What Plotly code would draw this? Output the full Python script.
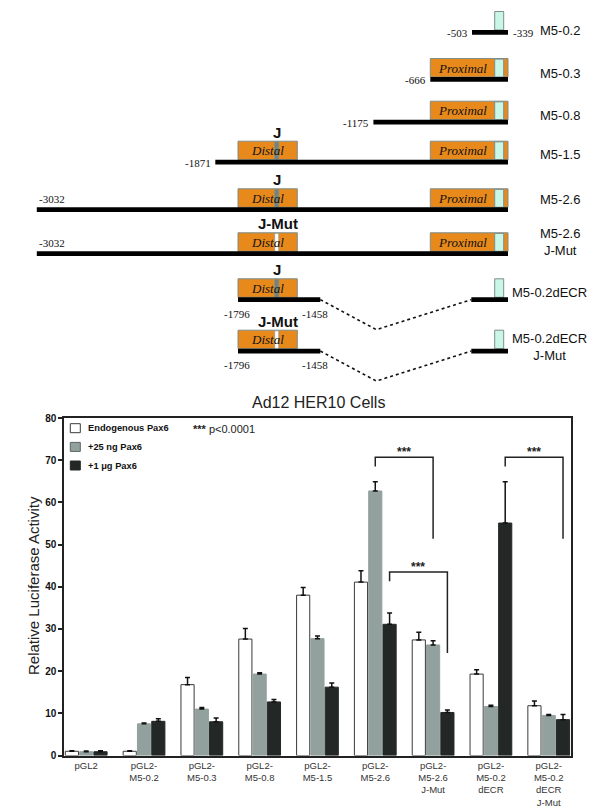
import plotly.graph_objects as go

W, H = 600, 812

# ---------------- bar chart data ----------------
groups = ["pGL2", "pGL2-<br>M5-0.2", "pGL2-<br>M5-0.3", "pGL2-<br>M5-0.8", "pGL2-<br>M5-1.5",
          "pGL2-<br>M5-2.6", "pGL2-<br>M5-2.6<br>J-Mut", "pGL2-<br>M5-0.2<br>dECR",
          "pGL2-<br>M5-0.2<br>dECR<br>J-Mut"]
endo = [1.0, 1.0, 16.8, 27.6, 38.0, 41.1, 27.4, 19.3, 11.8]
endo_err = [0.15, 0.1, 1.7, 2.5, 1.8, 2.7, 1.8, 1.0, 1.1]
ng25 = [0.9, 7.5, 11.0, 19.3, 27.7, 62.7, 26.2, 11.6, 9.5]
ng25_err = [0.15, 0.2, 0.4, 0.3, 0.6, 2.2, 1.0, 0.3, 0.2]
ug1 = [0.9, 8.1, 8.0, 12.7, 16.2, 31.1, 10.2, 55.1, 8.5]
ug1_err = [0.2, 0.6, 0.9, 0.6, 1.0, 2.7, 0.6, 9.8, 1.2]
series_names = ["Endogenous Pax6", "+25 ng Pax6", "+1 \u03bcg Pax6"]
y_ticks = [0, 10, 20, 30, 40, 50, 60, 70, 80]

# significance brackets: (left group, left series, right group, right series, top, left foot, right foot)
brackets = [
    (5, 1, 6, 1, 70.7, 68.5, 51.4),
    (5, 2, 6, 2, 43.5, 41.3, 24.3),
    (7, 2, 8, 2, 70.7, 68.5, 51.4),
]

# ---------------- schematic data ----------------
constructs = ["M5-0.2", "M5-0.3", "M5-0.8", "M5-1.5", "M5-2.6", "M5-2.6<br>J-Mut",
              "M5-0.2dECR", "M5-0.2dECR<br>J-Mut"]
start_labels = ["-503", "-666", "-1175", "-1871", "-3032", "-3032", "-1796", "-1796"]
end_labels = ["-339", "", "", "", "", "", "-1458", "-1458"]
has_distal = [False, False, False, True, True, True, True, True]
j_label = ["", "", "", "J", "J", "J-Mut", "J", "J-Mut"]
has_prox = [False, True, True, True, True, True, False, False]
deleted = [False, False, False, False, False, False, True, True]

# schematic layout (pixels)
line_top = [22, 69, 111.7, 151.7, 199.3, 243.3, 289.3, 340.7]
line_x0 = [464, 422.3, 365.4, 207.3, 28.8, 28.8, 230, 230]
name_y = [22.7, 65.7, 108, 146, 191.7, 234.2, 285, 339]
name_x = [552, 552, 552, 552, 552, 552, 541, 541]
LINE_T = 4.7
BOX_H = 18.5
END_X = 500
PROX = (422.3, 500)
CYAN = (486.7, 495.7)
DIST = (230, 289.3)
JBAND = (266.7, 270.7)
DEL = (312.3, 368.3, 463.3)

ORANGE = "#e8891c"
CYANC = "#c9f6e6"
EDGE = "#7d8e8c"
SANS = "Liberation Sans, Arial"
SERIF = "Liberation Serif, Times New Roman"


def px(x):
    return x / W


def py(y):
    return 1 - y / H


fig = go.Figure()

bar_colors = ["#ffffff", "#92a19e", "#232827"]
bar_lines = ["#3a3a3a", "#92a19e", "#232827"]
legend_lines = ["#3a3a3a", "#5a6664", "#232827"]
for name, vals, errs, c, lc in zip(series_names, [endo, ng25, ug1], [endo_err, ng25_err, ug1_err],
                                   bar_colors, bar_lines):
    fig.add_bar(x=list(range(len(groups))), y=vals, name=name, showlegend=False,
                marker=dict(color=c, line=dict(color=lc, width=1)),
                error_y=dict(type="data", symmetric=False, array=errs, arrayminus=[0] * len(vals),
                             color="#111111", thickness=1.5, width=2.5))

BARGAP = 0.258
OFF = (1 - BARGAP) / 3

shapes = []
annotations = []

# brackets
for (g1, s1, g2, s2, top, f1, f2) in brackets:
    x1 = g1 + (s1 - 1) * OFF
    x2 = g2 + (s2 - 1) * OFF
    shapes.append(dict(type="path", xref="x", yref="y",
                       path=f"M {x1},{f1} L {x1},{top} L {x2},{top} L {x2},{f2}",
                       line=dict(color="#222222", width=1.5)))
    annotations.append(dict(xref="x", yref="y", x=(x1 + x2) / 2, y=top, text="<b>***</b>",
                            showarrow=False, yanchor="bottom", yshift=-4,
                            font=dict(family=SANS, size=12, color="#222222")))


def rect(x0, x1, y0, y1, fill, line=EDGE, lw=1):
    shapes.append(dict(type="rect", xref="paper", yref="paper",
                       x0=px(x0), x1=px(x1), y0=py(y1), y1=py(y0),
                       fillcolor=fill, line=dict(color=line, width=lw), layer="above"))


def text(x, y, t, size, family=SANS, xanchor="center", color="#111111", align="center"):
    annotations.append(dict(xref="paper", yref="paper", x=px(x), y=py(y), text=t, showarrow=False,
                            xanchor=xanchor, yanchor="middle", align=align,
                            font=dict(family=family, size=size, color=color)))


for i, nm in enumerate(constructs):
    lt = line_top[i]
    bt = lt - BOX_H
    cy = lt + LINE_T / 2
    if has_prox[i]:
        rect(PROX[0], PROX[1], bt, lt, ORANGE)
        text((PROX[0] + CYAN[0]) / 2, bt + BOX_H / 2 + 0.5, "<i>Proximal</i>", 13, SERIF)
    rect(CYAN[0], CYAN[1], bt + (0.6 if has_prox[i] else 0), lt, CYANC)
    if has_distal[i]:
        rect(DIST[0], DIST[1], bt, lt, ORANGE)
        text((DIST[0] + DIST[1]) / 2, bt + BOX_H / 2 + 0.5, "<i>Distal</i>", 13, SERIF)
        band = "#ffffff" if "Mut" in j_label[i] else "#6f8483"
        rect(JBAND[0], JBAND[1], bt + 0.6, lt, band, line=EDGE, lw=0.6)
        text((JBAND[0] + JBAND[1]) / 2 + (1.5 if "Mut" in j_label[i] else 0), bt - 9,
             f"<b>{j_label[i]}</b>", 15)
    if deleted[i]:
        rect(line_x0[i], DEL[0], lt, lt + LINE_T, "#000000", line="#000000", lw=0)
        rect(DEL[2], END_X, lt, lt + LINE_T, "#000000", line="#000000", lw=0)
        shapes.append(dict(type="path", xref="paper", yref="paper",
                           path=f"M {px(DEL[0])},{py(cy)} L {px(DEL[1])},{py(cy + 30)} L {px(DEL[2])},{py(cy)}",
                           line=dict(color="#111111", width=1.6, dash="dot")))
        text(line_x0[i] - 1, lt + 16.5, start_labels[i], 11, SERIF)
        text(DEL[0] - 5, lt + 16.5, end_labels[i], 11, SERIF)
    else:
        rect(line_x0[i], END_X, lt, lt + LINE_T, "#000000", line="#000000", lw=0)
        if start_labels[i] == "-3032":
            text(line_x0[i], lt - 8, start_labels[i], 11, SERIF, xanchor="left")
        else:
            text(line_x0[i] - 2, cy + 1, start_labels[i], 11, SERIF, xanchor="right")
        if end_labels[i]:
            text(END_X + 3, cy + 1, end_labels[i], 11, SERIF, xanchor="left")
    text(name_x[i], name_y[i], nm, 13)

# manual legend inside the plot
leg_y = [420.2, 438.9, 457.5]
for nm, c, lc, yy in zip(series_names, bar_colors, legend_lines, leg_y):
    rect(62.3, 72.3, yy - 4.5, yy + 4.5, c, line=lc, lw=1)
    text(78.3, yy, f"<b>{nm}</b>", 9.3, xanchor="left")

# chart texts
text(310, 395, "Ad12 HER10 Cells", 16, color="#222222")
annotations.append(dict(xref="paper", yref="paper", x=px(25), y=py(578), text="Relative Luciferase Activity",
                        textangle=-90, showarrow=False, xanchor="center", yanchor="middle",
                        font=dict(family=SANS, size=15, color="#222222")))
text(183, 421, "<b>***</b> p<0.0001", 11, xanchor="left", color="#222222")

fig.update_layout(
    width=W, height=H, margin=dict(l=0, r=0, t=0, b=0),
    paper_bgcolor="white", plot_bgcolor="white",
    barmode="group", bargap=BARGAP, bargroupgap=0.08,
    showlegend=False,
    xaxis=dict(domain=[px(56), px(562.7)], range=[-0.384, 8.38], tickvals=list(range(len(groups))),
               ticktext=groups, showline=True, mirror=True, linecolor="#222222", linewidth=1.5,
               ticks="", showgrid=False, zeroline=False, automargin=False,
               tickfont=dict(family=SANS, size=9.5, color="#333333")),
    yaxis=dict(domain=[py(747.5), py(410)], range=[0, 80], tickvals=y_ticks,
               showline=True, mirror=True, linecolor="#222222", linewidth=1.5,
               ticks="outside", ticklen=4, tickwidth=1.5, tickcolor="#222222",
               showgrid=False, zeroline=False, automargin=False,
               tickfont=dict(family=SANS, size=10, color="#111111", weight="bold")),
    shapes=shapes, annotations=annotations,
)

fig.write_html("out.html")
